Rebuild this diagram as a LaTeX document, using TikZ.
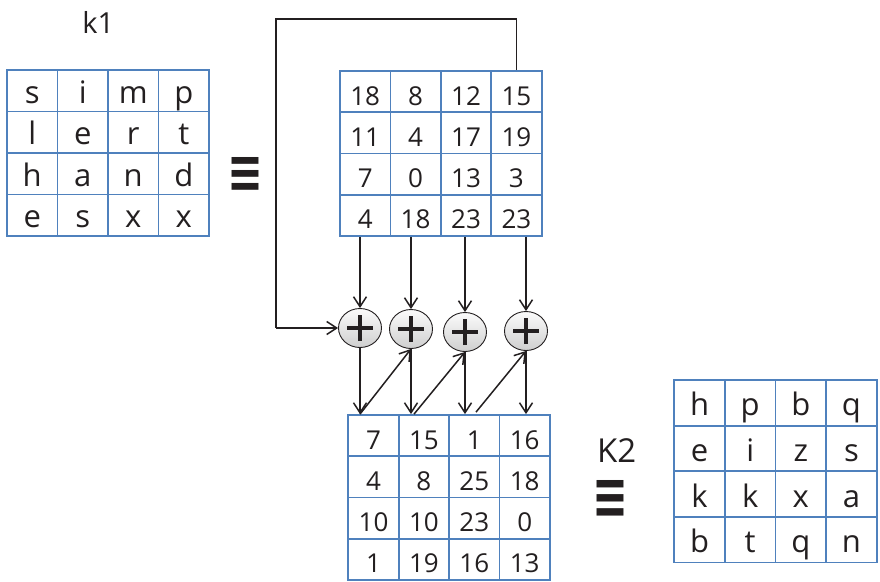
\documentclass[tikz,border=0pt]{standalone}
\usepackage{fontspec}
\setmainfont{Open Sans}
\newfontfamily\symfont{DejaVu Sans}
\usetikzlibrary{arrows.meta,shapes.geometric}
\definecolor{cellblue}{RGB}{79,129,189}
\definecolor{ink}{RGB}{35,31,32}
\newcommand\mygrid[8]{% name,x0,y0,cw,rh,fontsize,textheight,rows
  \foreach \row [count=\ri] in {#8} {
    \foreach \cv [count=\ci] in \row {
      \node[cell, minimum width=#4pt, minimum height=#5pt, text height=#7pt,
            font=\fontsize{#6}{#6}\selectfont]
        (#1-\ri-\ci) at ({#2+(\ci-0.5)*#4},{#3+(\ri-0.5)*#5}) {\cv};
    }
  }
}
\tikzset{
  cell/.style={rectangle, draw=cellblue, line width=1.8pt, inner sep=0pt,
               text depth=0pt, text=ink},
  xor/.style={ellipse, draw=ink, line width=0.9pt, minimum width=43pt,
              minimum height=39pt, inner sep=0pt, top color=gray!3, bottom color=gray!38,
              path picture={\draw[line width=4.4pt, ink]
                ([xshift=-13pt]path picture bounding box.center) --
                ([xshift=13pt]path picture bounding box.center)
                ([yshift=-13pt]path picture bounding box.center) --
                ([yshift=13pt]path picture bounding box.center);}},
  arr/.style={draw=ink, line width=1.5pt, -{Straight Barb[length=10pt,width=13pt,line width=1.5pt]}},
  fbline/.style={draw=ink, line width=1.2pt},
  lbl/.style={text=ink, inner sep=0pt},
}
\begin{document}
\begin{tikzpicture}[x=1pt, y=-1pt]
\useasboundingbox (0,0) rectangle (880,581);
\fill[white] (0,0) rectangle (880,581);

\mygrid{K1}{7}{70}{50.5}{41.5}{31}{24.6}{{s,i,m,p},{l,e,r,t},{h,a,n,d},{e,s,x,x}}
\mygrid{T}{340}{71}{50.4}{41.25}{26}{26.8}{{18,8,12,15},{11,4,17,19},{7,0,13,3},{4,18,23,23}}
\mygrid{B}{348.3}{415}{50.4}{41.25}{26}{26.8}{{7,15,1,16},{4,8,25,18},{10,10,23,0},{1,19,16,13}}
\mygrid{K2}{674.3}{380}{50.6}{45.6}{31}{26}{{h,p,b,q},{e,i,z,s},{k,k,x,a},{b,t,q,n}}

\node[lbl, font=\fontsize{29}{29}\selectfont] (k1) at (98.3,22.5) {k1};
\node[lbl, font=\fontsize{33}{33}\selectfont] (k2) at (616.7,451) {K2};
\node[lbl] (eq1) at (245.8,174.5) {\resizebox{36pt}{35pt}{\symfont\bfseries ≡}};
\node[lbl] (eq2) at (610.5,499) {\resizebox{36pt}{38pt}{\symfont\bfseries ≡}};

\node[xor] (X1) at (360,328) {};
\node[xor] (X2) at (411,329) {};
\node[xor] (X3) at (465,332) {};
\node[xor] (X4) at (526,331) {};

\foreach \k in {1,...,4} {
  \draw[arr] (T-4-\k.south -| X\k.north) -- (X\k.north);
  \draw[arr] (X\k.south) -- (X\k.south |- B-1-\k.north);
}

\coordinate (d1) at (X1.south |- B-1-1.north);
\coordinate (d2) at ([xshift=3pt]X2.south |- B-1-2.north);
\coordinate (d3) at ([xshift=11pt,yshift=2pt]X3.south |- B-1-3.north);
\draw[arr] (d1) -- (X2.south);
\draw[arr] (d2) -- (X3.south);
\draw[arr] (d3) -- (X4.south);

\coordinate (fb) at (276,19);
\draw[fbline] (T-1-4.north) -- (T-1-4.north |- fb) -- (fb) -- (fb |- X1.west);
\draw[arr] (fb |- X1.west) -- (X1.west);
\end{tikzpicture}
\end{document}
